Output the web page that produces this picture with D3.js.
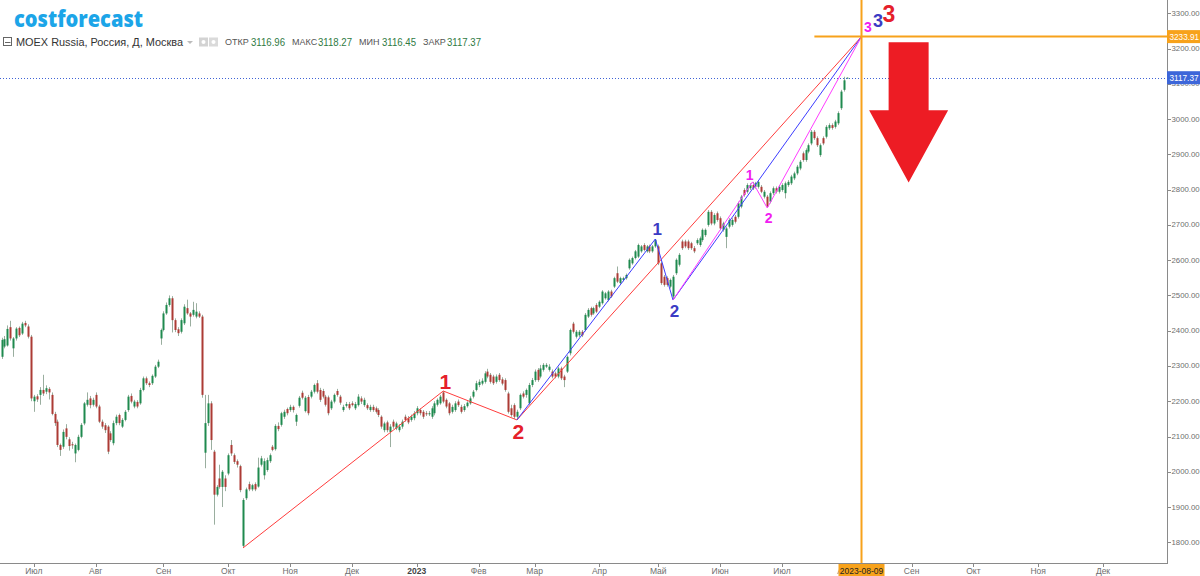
<!DOCTYPE html>
<html>
<head>
<meta charset="utf-8">
<style>
  body { margin: 0; background: #fff; }
  svg { display: block; font-family: "Liberation Sans", Arial, sans-serif; }
</style>
</head>
<body>
<svg id="chart" width="1200" height="576"></svg>
<script src="https://cdn.jsdelivr.net/npm/d3@7"></script>
<script>
// trading calendar
var firstDay = "2022-06-16";
var lastDay = "2023-12-29";
var holidays = ["2022-11-04", "2023-01-02", "2023-02-23", "2023-03-08", "2023-05-01", "2023-05-09", "2023-06-12"];

// daily candles
var opens = [
	2326,2355,2358,2410,2350,2378,2408,2392,2422,2412,
	2383,2200,2214,2218,2232,2227,2235,2218,2164,2142,
	2076,2071,2123,2092,2078,2052,2062,2099,2137,2190,
	2208,2190,2218,2185,2142,2132,2128,2109,2081,2138,
	2161,2128,2147,2175,2215,2185,2198,2194,2232,2265,
	2251,2251,2270,2298,2378,2402,2449,2473,2492,2430,
	2404,2397,2421,2464,2449,2445,2440,2449,2440,2054,
	2138,2194,2057,1935,1981,1957,1981,1995,2076,2047,
	2030,2016,1790,1925,1965,1950,1965,1958,2020,1990,
	2005,2030,2071,2064,2130,2133,2156,2178,2175,2184,
	2142,2187,2224,2172,2212,2213,2227,2251,2232,2229,
	2213,2211,2180,2199,2229,2213,2175,2187,2192,2194,
	2180,2189,2208,2189,2189,2175,2184,2180,2175,2156,
	2118,2140,2113,2142,2123,2118,2128,2156,2152,2147,
	2152,2166,2175,2170,2166,2163,2156,2166,2190,2194,
	2225,2204,2194,2170,2175,2199,2184,2175,2186,2194,
	2213,2232,2246,2250,2255,2284,2275,2270,2255,2275,
	2262,2260,2222,2180,2189,2156,2180,2222,2218,2194,
	2246,2260,2289,2270,2289,2298,2289,2284,2279,2270,
	2293,2270,2284,2336,2420,2383,2387,2397,2402,2440,
	2464,2449,2473,2468,2478,2492,2487,2511,2525,2563,
	2535,2544,2549,2577,2591,2606,2610,2625,2643,2625,
	2639,2625,2639,2639,2591,2553,2549,2525,2497,2563,
	2587,2653,2653,2653,2648,2634,2648,2643,2657,2671,
	2700,2737,2704,2733,2719,2686,2666,2695,2700,2723,
	2723,2752,2799,2794,2804,2813,2808,2808,2808,2780,
	2780,2766,2790,2804,2794,2799,2790,2813,2818,2832,
	2846,2860,2903,2884,2908,2931,2964,2946,2898,2946,
	2950,2974,2983,2978,2988,3031,3083,3116.96
];
var highs = [
	2380,2385,2415,2428,2382,2410,2412,2425,2428,2418,
	2388,2218,2220,2240,2275,2245,2240,2225,2170,2148,
	2080,2120,2135,2098,2085,2080,2105,2138,2198,2225,
	2215,2210,2225,2190,2148,2138,2132,2115,2145,2162,
	2165,2152,2175,2218,2222,2204,2203,2238,2270,2270,
	2256,2276,2303,2318,2406,2455,2480,2500,2498,2435,
	2410,2435,2475,2488,2453,2482,2478,2455,2445,2218,
	2218,2200,2062,1962,2020,2005,1990,2052,2090,2052,
	2035,2020,1925,1955,1972,1966,1970,2040,2045,2038,
	2040,2052,2076,2135,2140,2170,2176,2182,2190,2188,
	2165,2215,2230,2215,2218,2232,2250,2260,2238,2235,
	2218,2216,2204,2222,2235,2218,2190,2198,2198,2200,
	2198,2220,2214,2210,2194,2190,2190,2185,2180,2160,
	2142,2145,2135,2148,2142,2135,2148,2162,2158,2162,
	2172,2186,2180,2175,2172,2172,2186,2200,2208,2218,
	2229,2208,2198,2190,2200,2205,2190,2192,2200,2214,
	2232,2258,2262,2265,2285,2292,2280,2275,2276,2280,
	2268,2265,2227,2190,2194,2176,2222,2228,2236,2252,
	2266,2290,2294,2303,2308,2308,2305,2290,2284,2298,
	2298,2275,2330,2406,2425,2402,2402,2402,2450,2464,
	2468,2468,2478,2486,2515,2510,2515,2516,2553,2582,
	2553,2553,2562,2605,2610,2629,2647,2643,2648,2643,
	2644,2643,2660,2644,2596,2558,2554,2548,2558,2605,
	2620,2658,2658,2658,2652,2640,2662,2667,2690,2690,
	2742,2742,2733,2738,2724,2709,2695,2719,2719,2728,
	2766,2785,2804,2818,2818,2822,2822,2826,2813,2799,
	2785,2795,2809,2809,2813,2818,2823,2827,2842,2851,
	2870,2884,2908,2917,2931,2969,2969,2951,2931,2951,
	2983,2988,2988,2998,3022,3083,3120,3118.27
];
var lows = [
	2320,2350,2355,2372,2326,2372,2382,2388,2410,2378,
	2200,2170,2198,2190,2215,2220,2205,2160,2130,2070,
	2045,2065,2092,2060,2065,2027,2058,2095,2132,2185,
	2180,2185,2180,2138,2122,2110,2050,2085,2075,2132,
	2132,2124,2143,2170,2194,2180,2180,2190,2228,2246,
	2240,2246,2266,2294,2360,2398,2445,2468,2395,2396,
	2385,2392,2416,2445,2412,2440,2435,2436,2210,2010,
	2130,2062,1850,1930,1952,1900,1945,1990,2045,2022,
	2012,1942,1784,1920,1945,1945,1945,1955,2015,1978,
	2000,2025,2058,2060,2115,2128,2150,2160,2170,2168,
	2130,2182,2205,2168,2160,2208,2222,2222,2198,2208,
	2185,2160,2175,2194,2213,2190,2170,2182,2175,2185,
	2175,2185,2192,2184,2175,2170,2170,2165,2155,2122,
	2112,2112,2070,2122,2118,2112,2122,2142,2135,2142,
	2146,2160,2160,2150,2158,2158,2150,2160,2185,2190,
	2194,2180,2160,2165,2170,2184,2165,2170,2182,2190,
	2208,2228,2240,2245,2250,2265,2250,2246,2250,2255,
	2245,2227,2165,2156,2150,2147,2175,2208,2210,2190,
	2240,2255,2255,2265,2284,2294,2284,2265,2265,2265,
	2260,2240,2280,2330,2392,2378,2382,2382,2398,2436,
	2440,2445,2450,2464,2474,2488,2483,2493,2521,2535,
	2531,2540,2545,2573,2587,2602,2606,2621,2625,2621,
	2620,2621,2635,2586,2530,2525,2525,2520,2487,2558,
	2582,2629,2634,2629,2629,2620,2643,2638,2652,2666,
	2695,2699,2699,2709,2685,2681,2634,2690,2695,2704,
	2718,2747,2780,2789,2799,2799,2803,2803,2790,2775,
	2748,2761,2785,2789,2789,2794,2775,2808,2813,2827,
	2841,2855,2879,2879,2903,2926,2941,2921,2893,2926,
	2945,2969,2970,2973,2983,3026,3078,3116.45
];
var closes = [
	2374,2376,2405,2378,2378,2406,2387,2420,2415,2383,
	2208,2213,2205,2232,2222,2237,2225,2164,2138,2076,
	2062,2113,2099,2073,2075,2076,2099,2133,2194,2204,
	2189,2204,2185,2142,2128,2118,2057,2090,2138,2156,
	2138,2147,2170,2213,2199,2199,2185,2232,2265,2251,
	2246,2272,2298,2312,2402,2449,2473,2492,2430,2402,
	2393,2430,2468,2449,2440,2459,2454,2440,2218,2138,
	2194,2090,1935,1957,1957,2000,1957,2047,2052,2028,
	2020,1948,1920,1950,1950,1962,1950,2012,2038,2030,
	2033,2047,2062,2130,2121,2166,2170,2166,2184,2175,
	2161,2210,2210,2210,2166,2227,2246,2227,2204,2213,
	2190,2166,2199,2218,2218,2196,2184,2192,2180,2189,
	2192,2213,2199,2204,2180,2184,2175,2170,2161,2128,
	2137,2118,2128,2128,2137,2128,2142,2147,2140,2156,
	2166,2180,2166,2156,2163,2166,2180,2194,2204,2213,
	2199,2185,2166,2184,2194,2189,2170,2186,2196,2208,
	2227,2251,2255,2258,2279,2270,2255,2251,2270,2260,
	2250,2232,2170,2161,2156,2170,2218,2213,2232,2246,
	2260,2284,2260,2293,2303,2303,2298,2270,2270,2293,
	2265,2260,2326,2402,2397,2397,2397,2387,2445,2459,
	2445,2464,2454,2482,2511,2506,2511,2497,2549,2539,
	2549,2549,2558,2601,2606,2625,2643,2639,2629,2639,
	2625,2639,2658,2591,2535,2530,2530,2544,2553,2601,
	2615,2634,2639,2634,2634,2625,2657,2662,2686,2686,
	2737,2704,2728,2714,2690,2704,2690,2714,2714,2709,
	2761,2780,2785,2813,2813,2804,2818,2822,2794,2794,
	2752,2790,2804,2794,2808,2813,2818,2822,2837,2846,
	2865,2879,2884,2912,2926,2964,2946,2926,2926,2931,
	2978,2983,2975,2993,3017,3078,3110,3117.37
];

// wave markup: [date, price]
var waveRed = [["2022-10-10", 1784], ["2023-01-16", 2229], ["2023-02-20", 2147], ["2023-08-09", 3233.91]];
var waveBlue = [["2023-02-20", 2147], ["2023-04-28", 2660], ["2023-05-10", 2487], ["2023-08-09", 3233.91]];
var waveMagenta = [["2023-05-10", 2487], ["2023-06-19", 2822], ["2023-06-26", 2748], ["2023-08-09", 3233.91]];

var monthStarts = ["2022-07-01","2022-08-01","2022-09-01","2022-10-01","2022-11-01","2022-12-01",
	"2023-01-01","2023-02-01","2023-03-01","2023-04-01","2023-05-01","2023-06-01",
	"2023-07-01","2023-08-01","2023-09-01","2023-10-01","2023-11-01","2023-12-01"];
var monthLabels = ["Июл","Авг","Сен","Окт","Ноя","Дек","2023","Фев","Мар","Апр","Май","Июн",
	"Июл","Авг","Сен","Окт","Ноя","Дек"];
var priceTicks = [1800,1900,2000,2100,2200,2300,2400,2500,2600,2700,2800,2900,3000,3100,3200,3300];

var targetDate = "2023-08-09";
var targetPrice = 3233.91;
var lastPrice = 3117.37;
var levelFrom = "2023-07-18";
var arrowDate = "2023-08-31";
var arrowTop = 3218, arrowNeck = 3025, arrowTip = 2820;

var header = {
	name: "MOEX Russia, Россия, Д, Москва",
	fields: [["ОТКР", "3116.96"], ["МАКС", "3118.27"], ["МИН", "3116.45"], ["ЗАКР", "3117.37"]]
};

var ORANGE = "#f7a21b", AXIS = "#8a8a8a", TXT = "#6e6e6e";
var UP = "#1f8a4f", DOWN = "#ac3b35", WICK = "#9aae9f";

// build trading days
var parse = d3.utcParse("%Y-%m-%d");
var fmt = d3.utcFormat("%Y-%m-%d");
var days = [];
d3.utcDay.range(parse(firstDay), d3.utcDay.offset(parse(lastDay), 1)).forEach(function(d) {
	var wd = d.getUTCDay();
	if (wd === 0 || wd === 6) return;
	if (holidays.indexOf(fmt(d)) >= 0) return;
	days.push(fmt(d));
});
function dayIndex(s) { return d3.bisectLeft(days, s); }

var candles = closes.map(function(c, i) {
	return { i: i, date: days[i], o: opens[i], h: highs[i], l: lows[i], c: c };
});

var svg = d3.select("#chart");
var W = 1200, H = 576, axisX = 1167, axisY = 563;

var x = d3.scaleLinear().domain([0, dayIndex(targetDate)]).range([1.5, 861.5]);
var y = d3.scaleLinear().domain([1800, 3300]).range([542.3, 13.3]);

svg.append("rect").attr("width", W).attr("height", H).attr("fill", "#fff");

// candles
var cg = svg.append("g").attr("class", "candles");
cg.selectAll("line")
	.data(candles)
	.enter().append("line")
	.attr("x1", function(d) { return Math.round(x(d.i)) + 0.5; })
	.attr("x2", function(d) { return Math.round(x(d.i)) + 0.5; })
	.attr("y1", function(d) { return y(d.h); })
	.attr("y2", function(d) { return y(d.l); })
	.attr("stroke", WICK)
	.attr("stroke-width", 1);
cg.selectAll("rect")
	.data(candles)
	.enter().append("rect")
	.attr("x", function(d) { return Math.round(x(d.i)) - 0.5; })
	.attr("width", 2)
	.attr("y", function(d) { return y(Math.max(d.o, d.c)); })
	.attr("height", function(d) { return Math.max(1, Math.abs(y(d.o) - y(d.c))); })
	.attr("fill", function(d) { return d.c >= d.o ? UP : DOWN; });

// last price dotted line
svg.append("line")
	.attr("x1", 0).attr("x2", axisX)
	.attr("y1", Math.round(y(lastPrice)) + 0.5).attr("y2", Math.round(y(lastPrice)) + 0.5)
	.attr("stroke", "#3f63d6").attr("stroke-width", 1).attr("stroke-dasharray", "1,2");

// waves
var waveLine = d3.line()
	.x(function(d) { return x(dayIndex(d[0])); })
	.y(function(d) { return y(d[1]); });
[[waveRed, "#ff3c3c"], [waveBlue, "#3c3cff"], [waveMagenta, "#ff3cff"]].forEach(function(w) {
	svg.append("path")
		.attr("d", waveLine(w[0]))
		.attr("fill", "none")
		.attr("stroke", w[1])
		.attr("stroke-width", 1);
});

// orange target lines
svg.append("line")
	.attr("x1", x(dayIndex(targetDate))).attr("x2", x(dayIndex(targetDate)))
	.attr("y1", 0).attr("y2", axisY)
	.attr("stroke", ORANGE).attr("stroke-width", 2);
svg.append("line")
	.attr("x1", x(dayIndex(levelFrom))).attr("x2", axisX)
	.attr("y1", y(targetPrice)).attr("y2", y(targetPrice))
	.attr("stroke", ORANGE).attr("stroke-width", 2);

// wave labels
function waveLabel(pt, text, color, size, dx, dy) {
	svg.append("text")
		.attr("x", x(dayIndex(pt[0])) + dx)
		.attr("y", y(pt[1]) + dy)
		.attr("text-anchor", "middle")
		.attr("dominant-baseline", "central")
		.attr("font-weight", "bold")
		.attr("font-size", size)
		.attr("fill", color)
		.text(text);
}
var RED = "#e5202a", BLUE = "#3b3bc4", MAG = "#f020f0";
waveLabel(waveRed[1], "1", RED, 21, 2, -10);
waveLabel(waveRed[2], "2", RED, 21, 1.5, 12);
waveLabel(waveRed[3], "3", RED, 23, 27.5, -22.5);
waveLabel(waveBlue[1], "1", BLUE, 17, 2, -10);
waveLabel(waveBlue[2], "2", BLUE, 17, 1.5, 11);
waveLabel(waveBlue[3], "3", BLUE, 18, 16.5, -15.5);
waveLabel(waveMagenta[1], "1", MAG, 14, -3, -7);
waveLabel(waveMagenta[2], "2", MAG, 14, 1.5, 10);
waveLabel(waveMagenta[3], "3", MAG, 14, 6.5, -9.5);

// red arrow
var ax = x(dayIndex(arrowDate));
svg.append("path")
	.attr("d", "M" + (ax - 20) + "," + y(arrowTop) +
		"H" + (ax + 20) + "V" + y(arrowNeck) +
		"H" + (ax + 39.5) + "L" + ax + "," + y(arrowTip) +
		"L" + (ax - 39.5) + "," + y(arrowNeck) +
		"H" + (ax - 20) + "Z")
	.attr("fill", "#ed1c24");

// right price axis
svg.append("line")
	.attr("x1", axisX + 0.5).attr("x2", axisX + 0.5)
	.attr("y1", 0).attr("y2", axisY)
	.attr("stroke", AXIS);
var yt = svg.append("g").attr("class", "yaxis");
yt.selectAll("line")
	.data(priceTicks)
	.enter().append("line")
	.attr("x1", axisX).attr("x2", axisX + 4)
	.attr("y1", function(d) { return Math.round(y(d)) + 0.5; })
	.attr("y2", function(d) { return Math.round(y(d)) + 0.5; })
	.attr("stroke", AXIS);
yt.selectAll("text")
	.data(priceTicks)
	.enter().append("text")
	.attr("x", axisX + 4.5)
	.attr("y", function(d) { return y(d); })
	.attr("dominant-baseline", "central")
	.attr("font-size", 7.8)
	.attr("fill", TXT)
	.text(function(d) { return d3.format(".2f")(d); });

function priceBox(p, color) {
	var yy = y(p);
	svg.append("rect")
		.attr("x", axisX).attr("y", yy - 6.5)
		.attr("width", W - axisX).attr("height", 13)
		.attr("fill", color);
	svg.append("text")
		.attr("x", axisX + 2.5).attr("y", yy + 0.5)
		.attr("dominant-baseline", "central")
		.attr("font-size", 8.2)
		.attr("fill", "#fff")
		.text(d3.format(".2f")(p));
}
priceBox(targetPrice, ORANGE);
priceBox(lastPrice, "#3d66d9");

// time axis
svg.append("line")
	.attr("x1", 0).attr("x2", axisX + 1)
	.attr("y1", axisY + 0.5).attr("y2", axisY + 0.5)
	.attr("stroke", AXIS);
var ticks = monthStarts.map(function(m, i) { return { i: dayIndex(m), label: monthLabels[i] }; });
var xt = svg.append("g").attr("class", "xaxis");
xt.selectAll("line")
	.data(ticks)
	.enter().append("line")
	.attr("x1", function(d) { return Math.round(x(d.i)) + 0.5; })
	.attr("x2", function(d) { return Math.round(x(d.i)) + 0.5; })
	.attr("y1", axisY).attr("y2", axisY + 4)
	.attr("stroke", AXIS);
xt.selectAll("text")
	.data(ticks)
	.enter().append("text")
	.attr("x", function(d) { return x(d.i); })
	.attr("y", 571)
	.attr("text-anchor", "middle")
	.attr("dominant-baseline", "central")
	.attr("font-size", 8.5)
	.attr("font-weight", function(d) { return d.label === "2023" ? "bold" : "normal"; })
	.attr("fill", function(d) { return d.label === "2023" ? "#444" : TXT; })
	.text(function(d) { return d.label; });

// target date box
var tx = x(dayIndex(targetDate));
svg.append("rect")
	.attr("x", tx - 23).attr("y", axisY + 1)
	.attr("width", 46).attr("height", H - axisY - 1)
	.attr("fill", ORANGE);
svg.append("text")
	.attr("x", tx).attr("y", 571)
	.attr("text-anchor", "middle")
	.attr("dominant-baseline", "central")
	.attr("font-size", 8.5)
	.attr("fill", "#222")
	.text(targetDate);

// logo and header
svg.append("text")
	.attr("x", 14).attr("y", 27)
	.attr("font-family", "'Open Sans', sans-serif")
	.attr("font-weight", 800)
	.attr("font-size", 22)
	.attr("textLength", 129)
	.attr("lengthAdjust", "spacingAndGlyphs")
	.attr("fill", "#1ca5e8")
	.text("costforecast");

var hy = 42;
svg.append("rect").attr("x", 3.5).attr("y", hy - 4.5).attr("width", 8).attr("height", 8)
	.attr("fill", "none").attr("stroke", "#666");
svg.append("line").attr("x1", 5).attr("x2", 10.5).attr("y1", hy + 0.5).attr("y2", hy + 0.5)
	.attr("stroke", "#666");
svg.append("text")
	.attr("x", 16).attr("y", hy)
	.attr("dominant-baseline", "central")
	.attr("font-size", 11.5)
	.attr("textLength", 167)
	.attr("lengthAdjust", "spacingAndGlyphs")
	.attr("fill", "#333")
	.text(header.name);
svg.append("path").attr("d", "M187," + (hy - 1) + "h6l-3,3z").attr("fill", "#bbb");
svg.append("rect").attr("x", 199).attr("y", hy - 4.5).attr("width", 9).attr("height", 9).attr("fill", "#d3d3d3");
svg.append("rect").attr("x", 209).attr("y", hy - 4.5).attr("width", 9).attr("height", 9).attr("fill", "#dadada");
svg.append("circle").attr("cx", 203.5).attr("cy", hy).attr("r", 2).attr("fill", "#fff");
svg.append("circle").attr("cx", 213.5).attr("cy", hy).attr("r", 2).attr("fill", "#fff");

// [label x, value x]
var fieldX = [[225, 251], [292, 318], [359, 382], [423, 447]];
header.fields.forEach(function(f, i) {
	svg.append("text")
		.attr("x", fieldX[i][0]).attr("y", hy)
		.attr("dominant-baseline", "central")
		.attr("font-size", 9)
		.attr("fill", "#555")
		.text(f[0]);
	svg.append("text")
		.attr("x", fieldX[i][1]).attr("y", hy)
		.attr("dominant-baseline", "central")
		.attr("font-size", 11)
		.attr("textLength", 34)
		.attr("lengthAdjust", "spacingAndGlyphs")
		.attr("fill", "#2f7a43")
		.text(f[1]);
});
</script>
</body>
</html>
